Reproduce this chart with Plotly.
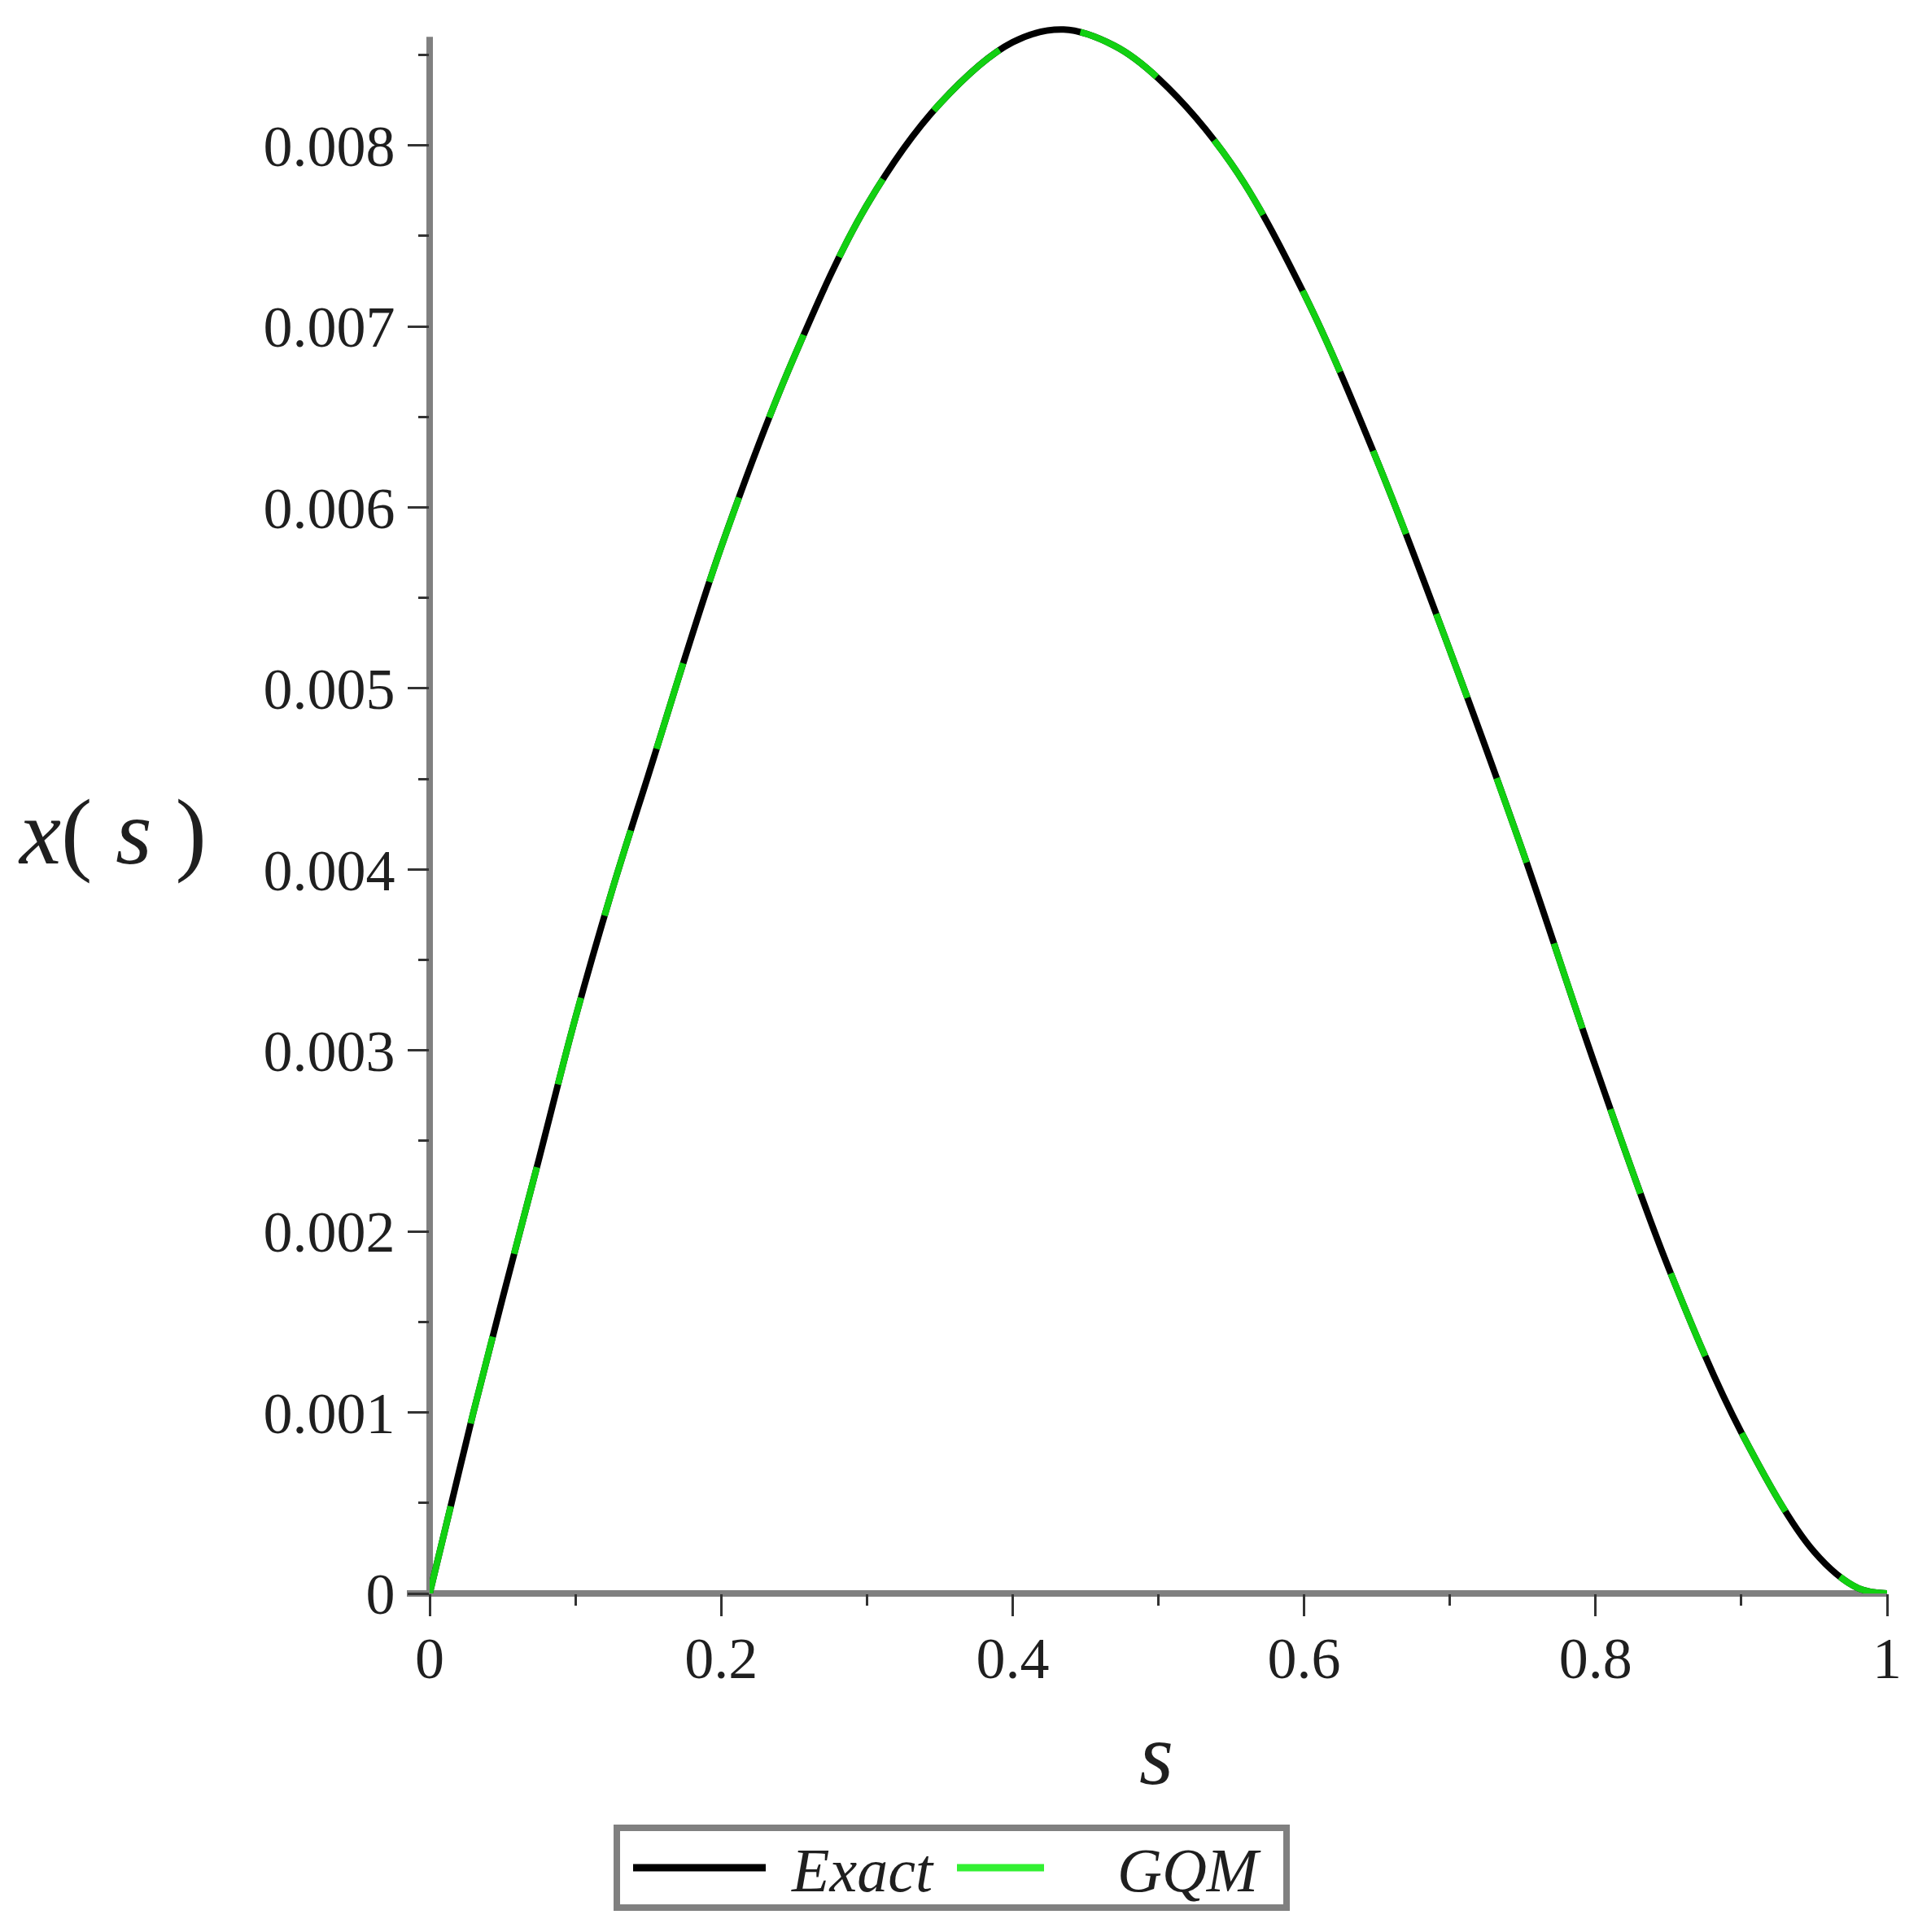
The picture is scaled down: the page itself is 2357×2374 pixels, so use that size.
import plotly.graph_objects as go

# values
s_vals = [0.0, 0.015, 0.03, 0.05, 0.075, 0.10, 0.125, 0.15, 0.20, 0.25, 0.30,
          0.35, 0.40, 0.435, 0.47, 0.50, 0.55, 0.60, 0.65, 0.70, 0.75, 0.80,
          0.85, 0.90, 0.95, 0.98, 1.0]
exact_vals = [0.0, 0.0005, 0.0010, 0.00163, 0.00240, 0.00318, 0.00388, 0.00452,
              0.00578, 0.00683, 0.00767, 0.00823, 0.00857, 0.00864, 0.00855,
              0.00837, 0.00790, 0.00718, 0.00626, 0.00521, 0.00410, 0.00291,
              0.00180, 0.00089, 0.00023, 0.00003, 0.0]
gqm_vals = [0.0, 0.0005, 0.0010, 0.00163, 0.00240, 0.00318, 0.00388, 0.00452,
            0.00578, 0.00683, 0.00767, 0.00823, 0.00857, 0.00864, 0.00855,
            0.00837, 0.00790, 0.00718, 0.00626, 0.00521, 0.00410, 0.00291,
            0.00180, 0.00089, 0.00023, 0.00003, 0.0]

x_ticks = [0, 0.2, 0.4, 0.6, 0.8, 1]
x_labels = ["0", "0.2", "0.4", "0.6", "0.8", "1"]
y_ticks = [0, 0.001, 0.002, 0.003, 0.004, 0.005, 0.006, 0.007, 0.008]
y_labels = ["0", "0.001", "0.002", "0.003", "0.004", "0.005", "0.006", "0.007", "0.008"]
series_names = ["Exact", "GQM"]

W, H = 2357, 2374
L, R, B = 528, 2319, 1958
PX_PER_UNIT = 222400  # vertical pixels per unit of x(s)
Y_TOP = 0.0087        # a little headroom so the rounded peak is not clipped
Y_AXIS_END = 0.0086   # where the drawn y axis line stops
T = round(B - Y_TOP * PX_PER_UNIT)
SERIF = "Liberation Serif"
AXIS_GREY = "#808080"
TEXT = "#1f1f1f"
GREEN = "#12d012"


def px(xp):
    return (xp - L) / (R - L)


def py(yp):
    return (B - yp) / (B - T)


fig = go.Figure()
fig.add_trace(go.Scatter(x=s_vals, y=exact_vals, mode="lines", name=series_names[0],
                         line=dict(color="black", width=8, shape="spline", smoothing=1.0),
                         showlegend=False))
fig.add_trace(go.Scatter(x=s_vals, y=gqm_vals, mode="lines", name=series_names[1],
                         line=dict(color=GREEN, width=8, shape="spline", smoothing=1.0,
                                   dash="110px,105px"),
                         showlegend=False))

tickfont = dict(family=SERIF, size=72, color=TEXT)

fig.update_xaxes(range=[0, 1], tickvals=x_ticks, ticktext=x_labels,
                 showline=False,
                 ticks="outside", ticklen=27, tickwidth=3, tickcolor="#333333",
                 minor=dict(ticks="outside", dtick=0.1, tick0=0, ticklen=14,
                            tickwidth=3, tickcolor="#333333"),
                 ticklabelstandoff=-10, tickfont=tickfont,
                 showgrid=False, zeroline=False)
fig.update_yaxes(range=[0, Y_TOP], tickvals=y_ticks, ticktext=y_labels,
                 showline=False,
                 ticks="outside", ticklen=26, tickwidth=3, tickcolor="#333333",
                 minor=dict(ticks="outside", dtick=0.0005, tick0=0, ticklen=13,
                            tickwidth=3, tickcolor="#333333"),
                 ticklabelstandoff=1, tickfont=tickfont,
                 showgrid=False, zeroline=False)

annotations = [
    dict(text="<i>x</i>( <i>s</i> )", x=px(138), y=py(1022), xref="paper", yref="paper",
         showarrow=False, xanchor="center", yanchor="middle",
         font=dict(family=SERIF, size=115, color=TEXT)),
    dict(text="<i>s</i>", x=px(1421), y=py(2155), xref="paper", yref="paper",
         showarrow=False, xanchor="center", yanchor="middle",
         font=dict(family=SERIF, size=108, color=TEXT)),
    dict(text="<i>" + series_names[0] + "</i>", x=px(970), y=py(2298), xref="paper", yref="paper",
         showarrow=False, xanchor="left", yanchor="middle",
         font=dict(family=SERIF, size=76, color=TEXT)),
    dict(text="<i>" + series_names[1] + "</i>", x=px(1371), y=py(2298), xref="paper", yref="paper",
         showarrow=False, xanchor="left", yanchor="middle",
         font=dict(family=SERIF, size=76, color=TEXT)),
]

shapes = [
    # axis lines, drawn under the curves, with the small overshoot past the origin
    dict(type="line", xref="paper", yref="paper", x0=px(500), x1=1.0,
         y0=0, y1=0, layer="below", line=dict(color=AXIS_GREY, width=8)),
    dict(type="line", xref="paper", yref="y", x0=0, x1=0,
         y0=-28 / PX_PER_UNIT, y1=Y_AXIS_END, layer="below",
         line=dict(color=AXIS_GREY, width=8)),
    # legend frame and samples
    dict(type="rect", xref="paper", yref="paper", x0=px(758), x1=px(1581),
         y0=py(2344), y1=py(2246), line=dict(color=AXIS_GREY, width=8)),
    dict(type="line", xref="paper", yref="paper", x0=px(778), x1=px(941),
         y0=py(2295), y1=py(2295), line=dict(color="black", width=9)),
    dict(type="line", xref="paper", yref="paper", x0=px(1176), x1=px(1283),
         y0=py(2295), y1=py(2295), line=dict(color="#33f033", width=9)),
]

fig.update_layout(width=W, height=H,
                  margin=dict(l=L, r=W - R, t=T, b=H - B, pad=0),
                  plot_bgcolor="white", paper_bgcolor="white",
                  annotations=annotations, shapes=shapes)

fig.write_html("out.html", config={"displayModeBar": False},
               post_script="document.body.style.margin='0';")
